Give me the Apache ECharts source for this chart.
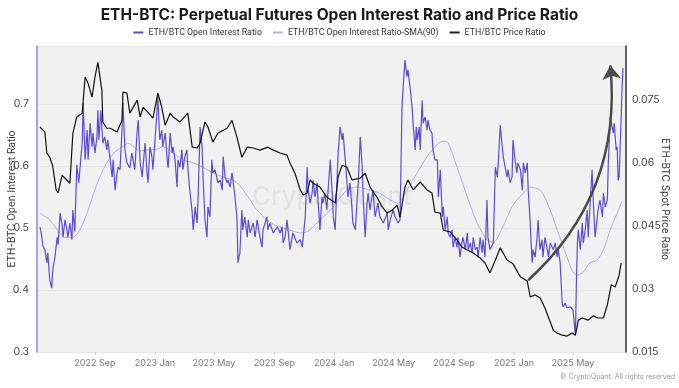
<!DOCTYPE html>
<html><head><meta charset="utf-8">
<script src="https://cdn.jsdelivr.net/npm/echarts@6/dist/echarts.min.js"></script>
<style>html,body{margin:0;padding:0;background:#fff}#c{width:679px;height:388px}</style>
</head><body><div id="c"></div>
<script>
// ---- Open interest ratio (ETH/BTC) ----
const oiDates = [
'2022-05-12','2022-05-16','2022-05-18','2022-05-22','2022-05-26','2022-05-28',
'2022-06-01','2022-06-05','2022-06-07','2022-06-12','2022-06-16','2022-06-18','2022-06-22','2022-06-26','2022-06-28',
'2022-07-02','2022-07-06','2022-07-08','2022-07-12','2022-07-16','2022-07-18','2022-07-22','2022-07-26','2022-07-30',
'2022-08-06','2022-08-08','2022-08-12','2022-08-16','2022-08-18','2022-08-22','2022-08-26','2022-08-28',
'2022-09-01','2022-09-05','2022-09-07','2022-09-09','2022-09-13','2022-09-15','2022-09-17','2022-09-21','2022-09-25','2022-09-27',
'2022-10-02','2022-10-06','2022-10-08','2022-10-12','2022-10-16','2022-10-18','2022-10-22','2022-10-26','2022-10-28',
'2022-11-01','2022-11-05','2022-11-11','2022-11-15','2022-11-21','2022-11-26','2022-11-28',
'2022-12-02','2022-12-06','2022-12-12','2022-12-16','2022-12-18','2022-12-22','2022-12-26','2022-12-28',
'2023-01-05','2023-01-07','2023-01-11','2023-01-15','2023-01-17','2023-01-22','2023-01-26','2023-01-28',
'2023-02-01','2023-02-05','2023-02-07','2023-02-11','2023-02-15','2023-02-17','2023-02-21','2023-02-25','2023-02-27',
'2023-03-03','2023-03-07','2023-03-09','2023-03-13','2023-03-18','2023-03-20','2023-03-24','2023-03-28','2023-03-30',
'2023-04-03','2023-04-07','2023-04-09','2023-04-13','2023-04-17','2023-04-19','2023-04-23','2023-04-27','2023-04-29',
'2023-05-03','2023-05-07','2023-05-09','2023-05-14','2023-05-18','2023-05-20','2023-05-24','2023-05-28','2023-05-30',
'2023-06-03','2023-06-07','2023-06-09','2023-06-13','2023-06-17','2023-06-19','2023-06-23','2023-06-27','2023-06-29',
'2023-07-03','2023-07-08','2023-07-10','2023-07-14','2023-07-20','2023-07-24','2023-07-28',
'2023-08-03','2023-08-07','2023-08-09','2023-08-17','2023-08-19','2023-08-23','2023-08-30',
'2023-09-07','2023-09-13','2023-09-17','2023-09-19','2023-09-23','2023-09-27','2023-09-29',
'2023-10-03','2023-10-09','2023-10-17','2023-10-24','2023-10-28',
'2023-11-03','2023-11-07','2023-11-09','2023-11-13','2023-11-17','2023-11-19','2023-11-23','2023-11-27','2023-11-29',
'2023-12-03','2023-12-07','2023-12-09','2023-12-13','2023-12-17','2023-12-20','2023-12-24','2023-12-28','2023-12-30',
'2024-01-03','2024-01-07','2024-01-09','2024-01-13','2024-01-17','2024-01-19','2024-01-23','2024-01-27','2024-01-29',
'2024-02-02','2024-02-06','2024-02-08','2024-02-13','2024-02-17','2024-02-19','2024-02-23','2024-02-27','2024-02-29',
'2024-03-04','2024-03-08','2024-03-10','2024-03-14','2024-03-20','2024-03-24','2024-03-30',
'2024-04-03','2024-04-10','2024-04-18','2024-04-20','2024-04-24','2024-04-30',
'2024-05-04','2024-05-10','2024-05-14','2024-05-18','2024-05-20','2024-05-24','2024-05-28','2024-05-30',
'2024-06-04','2024-06-08','2024-06-10','2024-06-14','2024-06-16','2024-06-18','2024-06-22','2024-06-24','2024-06-28','2024-06-30',
'2024-07-04','2024-07-08','2024-07-10','2024-07-14','2024-07-18','2024-07-20','2024-07-24','2024-07-29','2024-07-31',
'2024-08-04','2024-08-08','2024-08-10','2024-08-14','2024-08-18','2024-08-20','2024-08-24','2024-08-28','2024-08-30',
'2024-09-03','2024-09-07','2024-09-09','2024-09-13','2024-09-17','2024-09-19','2024-09-24','2024-09-28','2024-09-30',
'2024-10-04','2024-10-08','2024-10-10','2024-10-14','2024-10-18','2024-10-20','2024-10-24','2024-10-28','2024-10-30',
'2024-11-03','2024-11-07','2024-11-09','2024-11-13','2024-11-20','2024-11-24','2024-11-28','2024-11-30',
'2024-12-04','2024-12-08','2024-12-10','2024-12-14','2024-12-18','2024-12-20','2024-12-24','2024-12-28','2024-12-30',
'2025-01-03','2025-01-07','2025-01-09','2025-01-14','2025-01-18','2025-01-20','2025-01-24','2025-01-28','2025-01-30',
'2025-02-03','2025-02-07','2025-02-09','2025-02-13','2025-02-17','2025-02-19','2025-02-23','2025-02-27',
'2025-03-01','2025-03-05','2025-03-10','2025-03-12','2025-03-16','2025-03-22','2025-03-26','2025-03-30',
'2025-04-01','2025-04-05','2025-04-07','2025-04-09','2025-04-11','2025-04-15','2025-04-19','2025-04-25',
'2025-05-01','2025-05-06','2025-05-08','2025-05-10','2025-05-12','2025-05-16','2025-05-20','2025-05-22','2025-05-26','2025-05-30',
'2025-06-01','2025-06-05','2025-06-09','2025-06-11','2025-06-15','2025-06-19','2025-06-21','2025-06-25','2025-06-30',
'2025-07-02','2025-07-06','2025-07-10','2025-07-12','2025-07-16','2025-07-20','2025-07-22','2025-07-24','2025-07-28','2025-07-30',
'2025-08-01','2025-08-03','2025-08-07','2025-08-09','2025-08-11'
];
const oiRatio = [
0.502,0.485,0.471,0.465,0.444,0.460,
0.416,0.403,0.432,0.456,0.485,0.473,0.524,0.505,0.485,
0.513,0.497,0.485,0.508,0.481,0.529,0.494,0.602,0.573,
0.637,0.702,0.610,0.658,0.610,0.669,0.631,0.653,
0.621,0.647,0.690,0.642,0.690,0.663,0.637,0.647,0.626,0.642,
0.610,0.582,0.610,0.561,0.589,0.598,0.594,0.658,0.702,
0.626,0.605,0.597,0.621,0.594,0.658,0.674,
0.605,0.582,0.637,0.589,0.573,0.631,0.615,0.594,
0.685,0.711,0.642,0.658,0.631,0.653,0.610,0.597,
0.653,0.621,0.631,0.610,0.566,0.610,0.598,0.626,0.594,
0.615,0.626,0.598,0.561,0.524,0.497,0.534,0.508,0.550,
0.663,0.631,0.582,0.513,0.485,0.534,0.518,0.610,0.589,
0.594,0.582,0.573,0.577,0.561,0.615,0.582,0.573,0.577,
0.566,0.589,0.577,0.550,0.518,0.444,0.460,0.529,0.497,
0.518,0.485,0.513,0.492,0.508,0.485,0.513,
0.485,0.469,0.497,0.518,0.497,0.508,0.492,
0.502,0.492,0.502,0.476,0.485,0.513,0.497,
0.465,0.492,0.476,0.481,0.469,
0.518,0.598,0.561,0.540,0.556,0.577,0.550,0.573,0.545,
0.497,0.550,0.540,0.556,0.529,0.566,0.610,0.556,0.518,
0.497,0.582,0.621,0.663,0.642,0.653,0.615,0.573,0.550,
0.573,0.534,0.508,0.497,0.550,0.573,0.647,0.598,0.550,
0.485,0.540,0.556,0.529,0.561,0.518,0.540,
0.518,0.508,0.524,0.497,0.513,0.529,
0.518,0.508,0.513,0.695,0.723,0.771,0.744,0.755,
0.723,0.690,0.663,0.626,0.663,0.642,0.663,0.626,0.706,0.669,
0.679,0.658,0.674,0.658,0.653,0.626,0.610,0.610,0.550,
0.594,0.518,0.534,0.497,0.518,0.492,0.485,0.497,0.469,
0.485,0.469,0.485,0.453,0.476,0.485,0.465,0.492,0.465,
0.476,0.460,0.485,0.465,0.469,0.453,0.485,0.460,0.481,
0.453,0.545,0.485,0.465,0.476,0.598,0.582,0.605,
0.666,0.631,0.615,0.598,0.582,0.594,0.573,0.582,0.642,
0.610,0.589,0.605,0.594,0.561,0.605,0.589,0.605,0.561,
0.508,0.444,0.465,0.453,0.485,0.513,0.465,0.481,
0.453,0.485,0.465,0.453,0.476,0.465,0.476,0.453,
0.465,0.444,0.411,0.379,0.373,0.379,0.371,0.373,
0.368,0.327,0.411,0.476,0.497,0.465,0.508,0.476,0.497,0.529,
0.485,0.540,0.594,0.550,0.485,0.513,0.529,0.545,0.518,
0.556,0.534,0.545,0.605,0.679,0.663,0.653,0.669,0.626,0.631,
0.577,0.582,0.674,0.727,0.758
];

// ---- 90-day SMA of the open interest ratio ----
const smaDates = [
'2022-05-12','2022-06-01','2022-06-16','2022-07-02','2022-07-18','2022-08-01','2022-08-16','2022-08-28',
'2022-09-11','2022-09-25','2022-10-12','2022-10-28','2022-11-07','2022-11-17','2022-12-02','2022-12-16',
'2023-01-05','2023-01-17','2023-02-07','2023-02-27','2023-03-20','2023-04-09','2023-04-29','2023-05-20',
'2023-06-09','2023-06-23','2023-07-08','2023-07-28','2023-08-17','2023-08-30','2023-09-19','2023-10-09',
'2023-10-24','2023-11-07','2023-11-27','2023-12-24',
'2024-01-27','2024-02-17','2024-03-14','2024-04-03','2024-04-24','2024-05-10','2024-05-28','2024-06-18',
'2024-07-08','2024-07-29','2024-08-10','2024-08-20','2024-09-07','2024-09-28','2024-10-18','2024-11-07',
'2024-11-20','2024-12-08','2024-12-30',
'2025-01-20','2025-02-03','2025-02-23','2025-03-10','2025-03-30','2025-04-19','2025-05-01','2025-05-10',
'2025-05-22','2025-06-05','2025-06-19','2025-07-02','2025-07-16','2025-07-30','2025-08-09'
];
const smaRatio = [
0.524,0.513,0.497,0.485,0.485,0.497,0.524,0.553,
0.582,0.605,0.623,0.631,0.637,0.632,0.624,0.626,
0.627,0.631,0.621,0.610,0.605,0.598,0.589,0.582,
0.577,0.568,0.552,0.529,0.513,0.506,0.500,0.495,
0.492,0.494,0.508,0.529,
0.561,0.566,0.561,0.556,0.545,0.540,0.561,0.589,
0.615,0.635,0.640,0.637,0.598,0.550,0.508,0.481,
0.477,0.500,0.537,
0.556,0.566,0.561,0.540,0.497,0.453,0.429,0.424,
0.429,0.444,0.448,0.465,0.497,0.524,0.544
];

// ---- ETH/BTC spot price ratio ----
const priceDates = [
'2022-05-12','2022-05-22','2022-05-26','2022-06-01','2022-06-07','2022-06-14','2022-06-18','2022-06-26',
'2022-07-02','2022-07-06','2022-07-12','2022-07-18','2022-07-26','2022-08-06','2022-08-12','2022-08-18','2022-08-26',
'2022-09-01','2022-09-07','2022-09-15','2022-09-17','2022-09-25','2022-10-02','2022-10-16','2022-10-26','2022-10-28',
'2022-11-05','2022-11-11','2022-11-26','2022-12-02','2022-12-08','2022-12-18','2022-12-28',
'2023-01-07','2023-01-15','2023-01-22','2023-02-01','2023-02-07','2023-02-21','2023-03-09','2023-03-18','2023-03-28',
'2023-04-03','2023-04-13','2023-04-19','2023-04-29','2023-05-09','2023-05-28','2023-06-07','2023-06-17','2023-06-27',
'2023-07-08','2023-07-20','2023-08-03','2023-08-19','2023-08-30','2023-09-13','2023-09-27','2023-10-03','2023-10-13',
'2023-10-24','2023-10-30','2023-11-07','2023-11-13','2023-11-19','2023-12-03','2023-12-17',
'2024-01-03','2024-01-09','2024-01-17','2024-01-27','2024-02-06','2024-02-23','2024-03-04','2024-03-14','2024-03-28',
'2024-04-08','2024-04-18','2024-04-28','2024-05-08','2024-05-14','2024-05-24','2024-05-30','2024-06-10','2024-06-24',
'2024-07-08','2024-07-18','2024-07-24','2024-08-04','2024-08-10','2024-08-24','2024-09-07','2024-09-17','2024-09-28',
'2024-10-10','2024-10-24','2024-11-03','2024-11-13','2024-11-24','2024-12-04','2024-12-18','2024-12-30',
'2025-01-14','2025-01-28','2025-02-03','2025-02-13','2025-02-23','2025-03-05','2025-03-16','2025-03-22','2025-03-30',
'2025-04-09','2025-04-19','2025-04-29','2025-05-06','2025-05-12','2025-05-20','2025-06-01','2025-06-11','2025-06-21',
'2025-07-02','2025-07-10','2025-07-18','2025-07-26','2025-08-03','2025-08-07'
];
const priceRatio = [
0.0686,0.0674,0.0624,0.0614,0.0593,0.0536,0.0529,0.0571,
0.0564,0.0560,0.0552,0.0671,0.0710,0.0719,0.0805,0.0790,0.0757,
0.0805,0.0840,0.0774,0.0698,0.0683,0.0683,0.0674,0.0702,0.0769,
0.0767,0.0719,0.0750,0.0710,0.0733,0.0721,0.0707,
0.0767,0.0733,0.0690,0.0719,0.0710,0.0698,0.0719,0.0638,0.0636,
0.0648,0.0698,0.0686,0.0650,0.0671,0.0683,0.0702,0.0662,0.0614,
0.0638,0.0636,0.0631,0.0638,0.0631,0.0624,0.0619,0.0600,0.0576,
0.0536,0.0524,0.0529,0.0560,0.0552,0.0543,0.0519,
0.0505,0.0567,0.0595,0.0590,0.0560,0.0564,0.0576,0.0543,0.0519,
0.0495,0.0481,0.0488,0.0500,0.0471,0.0543,0.0560,0.0536,0.0555,
0.0536,0.0529,0.0483,0.0481,0.0440,0.0436,0.0417,0.0400,0.0393,
0.0386,0.0374,0.0362,0.0338,0.0369,0.0398,0.0369,0.0360,
0.0329,0.0319,0.0281,0.0286,0.0279,0.0255,0.0221,0.0202,0.0195,
0.0190,0.0188,0.0195,0.0190,0.0226,0.0231,0.0226,0.0236,0.0231,
0.0231,0.0262,0.0310,0.0305,0.0333,0.0362
];

// ---- axis ticks ----
const xTickDates = ['2022-09-01','2023-01-01','2023-05-01','2023-09-01','2024-01-01','2024-05-01','2024-09-01','2025-01-01','2025-05-01'];
const xTickLabels = ['2022 Sep','2023 Jan','2023 May','2023 Sep','2024 Jan','2024 May','2024 Sep','2025 Jan','2025 May'];
const xRange = ['2022-05-06','2025-08-17'];

// ---- annotation arrow (in data coordinates: date, price ratio) ----
const arrowDates = ['2025-01-30','2025-07-16'];
const arrowValues = [0.0321,0.0833];

const ts = s => { const p = s.split('-').map(Number); return Date.UTC(p[0], p[1]-1, p[2]); };
const zip = (d, v) => d.map((s, i) => [ts(s), v[i]]);
const tickTs = xTickDates.map(ts);
const FONT = 'Inter';

const chart = echarts.init(document.getElementById('c'), null, {renderer:'canvas'});
chart.setOption({
  animation: false,
  backgroundColor: '#ffffff',
  textStyle: {fontFamily: FONT},
  title: {
    text: 'ETH-BTC: Perpetual Futures Open Interest Ratio and Price Ratio',
    left: 'center', top: 2,
    textStyle: {fontSize: 15.5, fontWeight: 'bold', color: '#1a1a1a', fontFamily: FONT}
  },
  legend: {
    top: 23, left: 'center', icon: 'rect', itemWidth: 10, itemHeight: 2, itemGap: 11,
    textStyle: {fontSize: 8.8, color: '#333', fontFamily: 'Roboto'},
    data: ['ETH/BTC Open Interest Ratio', 'ETH/BTC Open Interest Ratio-SMA(90)', 'ETH/BTC Price Ratio']
  },
  grid: {left: 37, right: 53, top: 46, bottom: 36, outerBoundsMode: 'none', containLabel: false,
         show: true, backgroundColor: '#f1f1f1', borderWidth: 0},
  xAxis: {
    type: 'value', min: ts(xRange[0]), max: ts(xRange[1]),
    axisLine: {show: false},
    axisTick: {show: true, customValues: tickTs, length: 3, lineStyle: {color: '#d0d0d0'}},
    axisLabel: {
      customValues: tickTs, color: '#777', fontSize: 9, margin: 7,
      formatter: v => { const i = tickTs.indexOf(v); return i >= 0 ? xTickLabels[i] : ''; }
    },
    splitLine: {show: false}
  },
  yAxis: [{
    type: 'value', position: 'left', min: 0.3, max: 0.7935, interval: 0.1,
    name: 'ETH-BTC Open Interest Ratio', nameLocation: 'middle', nameGap: 20, nameMoveOverlap: false,
    nameTextStyle: {fontSize: 10, color: '#333'},
    axisLine: {show: true, lineStyle: {color: '#8e85df', width: 1.5}},
    axisTick: {show: false},
    axisLabel: {color: '#444', fontSize: 10.5, margin: 8, showMaxLabel: false,
      formatter: v => String(+v.toFixed(2))},
    splitLine: {show: true, lineStyle: {color: '#e7e7e7', width: 1}}
  }, {
    type: 'value', position: 'right', min: 0.015, max: 0.0879, interval: 0.015,
    name: 'ETH-BTC Spot Price Ratio', nameLocation: 'middle', nameGap: 34, nameRotate: -90, nameMoveOverlap: false,
    nameTextStyle: {fontSize: 10, color: '#333'},
    axisLine: {show: true, lineStyle: {color: '#333', width: 1.5}},
    axisTick: {show: false},
    axisLabel: {color: '#444', fontSize: 10.5, margin: 6, showMaxLabel: false,
      formatter: v => String(+v.toFixed(4))},
    splitLine: {show: false}
  }],
  graphic: [
    {type: 'text', left: 252, top: 184, z: 1, silent: true,
     style: {text: 'CryptoQuant', fontSize: 26, fontFamily: FONT, fontWeight: 500, fill: 'rgba(0,0,0,0.06)'}},
    {type: 'text', right: 4, top: 373, silent: true,
     style: {text: '\u00A9 CryptoQuant. All rights reserved', fontSize: 7, fontFamily: FONT, fill: '#999'}}
  ],
  series: [{
    name: 'ETH/BTC Open Interest Ratio', type: 'line', yAxisIndex: 0,
    data: zip(oiDates, oiRatio), showSymbol: false, symbol: 'none',
    lineStyle: {color: '#5a4cd8', width: 1.2}, itemStyle: {color: '#5a4cd8'}, z: 3
  }, {
    name: 'ETH/BTC Open Interest Ratio-SMA(90)', type: 'line', yAxisIndex: 0,
    data: zip(smaDates, smaRatio), showSymbol: false, symbol: 'none', smooth: 0.3,
    lineStyle: {color: '#a9a2e6', width: 0.9}, itemStyle: {color: '#b9b3ec'}, z: 2
  }, {
    name: 'ETH/BTC Price Ratio', type: 'line', yAxisIndex: 1,
    data: zip(priceDates, priceRatio), showSymbol: false, symbol: 'none',
    lineStyle: {color: '#111', width: 1.2}, itemStyle: {color: '#222'}, z: 4
  }, {
    type: 'lines', coordinateSystem: 'cartesian2d', xAxisIndex: 0, yAxisIndex: 1, silent: true, z: 6,
    symbol: ['none', 'arrow'], symbolSize: [0, 14],
    lineStyle: {color: '#4a4a4a', width: 2.5, opacity: 1, curveness: -0.25},
    data: [{coords: [[ts(arrowDates[0]), arrowValues[0]], [ts(arrowDates[1]), arrowValues[1]]]}]
  }]
});
</script></body></html>
